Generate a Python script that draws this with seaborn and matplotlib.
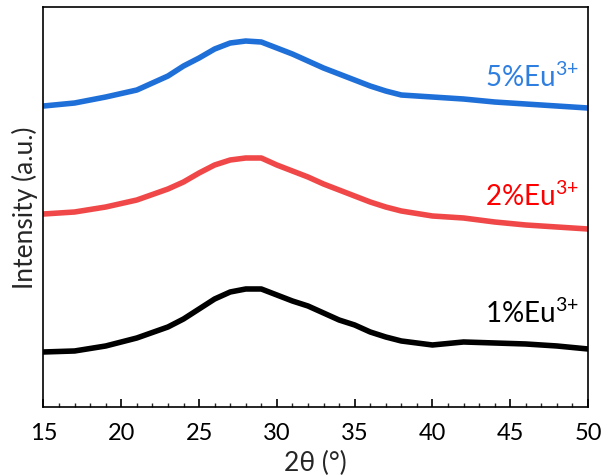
import numpy as np
import pandas as pd
import matplotlib.pyplot as plt
import seaborn as sns
from matplotlib.ticker import MultipleLocator

# 2theta positions (deg) and intensities (arbitrary units, stacked)
two_theta = [15, 17, 19, 21, 23, 24, 25, 26, 27, 28, 29, 30, 31, 32, 33, 34,
             35, 36, 37, 38, 40, 42, 44, 46, 48, 50]
eu1 = [55, 56, 61, 69, 80, 88, 98, 108, 115, 118, 118, 112, 106, 101, 94, 87,
       82, 75, 70, 66, 62, 65, 64, 63, 61, 58]
eu2 = [193, 195, 200, 207, 218, 225, 234, 242, 247, 249, 249, 242, 236, 230, 223, 217,
       211, 205, 200, 196, 191, 189, 185, 182, 180, 178]
eu5 = [301, 304, 310, 317, 331, 341, 349, 358, 364, 366, 365, 359, 353, 346, 339, 333,
       327, 321, 316, 312, 310, 308, 305, 303, 301, 299]

labels = ['1%Eu$^{3{+}}$', '2%Eu$^{3{+}}$', '5%Eu$^{3{+}}$']
line_colors = ['#000000', '#f04848', '#1f6fd8']
text_colors = ['#000000', '#ff0000', '#2f7fe0']
label_y = [85, 202, 321]

sns.set_theme(style="ticks")
plt.rcParams['font.family'] = ['Lato', 'DejaVu Sans']
plt.rcParams['mathtext.default'] = 'regular'

fig = plt.figure(figsize=(6.05, 4.77), dpi=100)
ax = fig.add_axes([0.0719, 0.1447, 0.900, 0.8385])

for ys, c in zip([eu1, eu2, eu5], line_colors):
    df = pd.DataFrame({'x': two_theta, 'y': ys})
    sns.lineplot(data=df, x='x', y='y', ax=ax, color=c, linewidth=4.0)

for lab, c, y in zip(labels, text_colors, label_y):
    ax.text(49.4, y, lab, color=c, fontsize=20, ha='right', va='baseline')

ax.set_xlim(15, 50)
ax.set_ylim(0, 400)
ax.set_yticks([])
ax.xaxis.set_major_locator(MultipleLocator(5))
ax.xaxis.set_minor_locator(MultipleLocator(1))
ax.tick_params(axis='x', which='major', direction='in', length=6, width=1.2,
               labelsize=17, colors='black', pad=11)
ax.tick_params(axis='x', which='minor', direction='in', length=3, width=1.0)
for s in ax.spines.values():
    s.set_color('black')
    s.set_linewidth(1.2)

ax.set_xlabel('2θ (°)', fontsize=19, labelpad=5)
ax.set_ylabel('Intensity (a.u.)', fontsize=19, labelpad=4)

fig.savefig('out.png', dpi=100)
